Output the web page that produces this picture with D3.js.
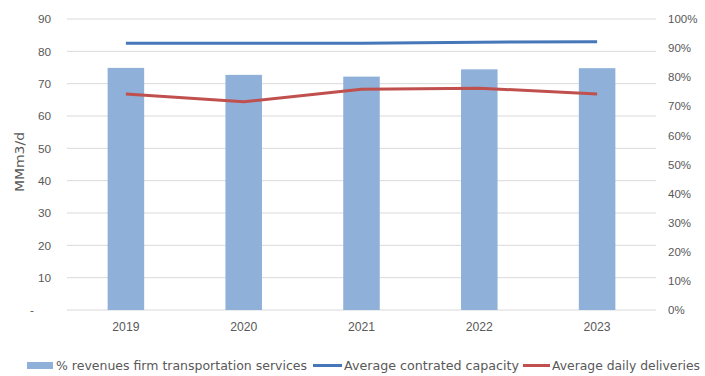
<!DOCTYPE html>
<html>
<head>
<meta charset="utf-8">
<script src="https://cdn.jsdelivr.net/npm/d3@7"></script>
<style>
  html, body { margin: 0; padding: 0; background: #fff; }
  svg { display: block; font-family: "DejaVu Sans", Verdana, sans-serif; }
</style>
</head>
<body>
<svg id="chart" width="705" height="376"></svg>
<script>
// Data
const years = ["2019", "2020", "2021", "2022", "2023"];
const revenueShare = [0.832, 0.808, 0.802, 0.827, 0.831];   // right axis (%)
const contractedCapacity = [82.5, 82.5, 82.5, 82.8, 83.0];  // MMm3/d
const dailyDeliveries = [66.8, 64.4, 68.3, 68.6, 66.8];     // MMm3/d
const leftTicks = [0, 10, 20, 30, 40, 50, 60, 70, 80, 90];
const rightTicks = [0, 0.1, 0.2, 0.3, 0.4, 0.5, 0.6, 0.7, 0.8, 0.9, 1.0];
const legendLabels = ["% revenues firm transportation services", "Average contrated capacity", "Average daily deliveries"];

const colors = { bar: "#8FB0D8", cap: "#4677B8", del: "#C0504D", grid: "#D9D9D9", text: "#595959" };

const svg = d3.select("#chart");
const m = { left: 67, right: 656, top: 19, bottom: 310 };

const x = d3.scaleBand().domain(years).range([m.left, m.right]).paddingInner(0.69).paddingOuter(0.345);
const yL = d3.scaleLinear().domain([0, 90]).range([m.bottom, m.top]);
const yR = d3.scaleLinear().domain([0, 1]).range([m.bottom, m.top]);

// Gridlines
svg.append("g").selectAll("line").data(leftTicks).join("line")
  .attr("x1", m.left).attr("x2", m.right)
  .attr("y1", d => yL(d)).attr("y2", d => yL(d))
  .attr("stroke", colors.grid).attr("stroke-width", 1);

// Left axis (zero shown as a dash, set further left)
const leftAxis = svg.append("g").attr("transform", `translate(${m.left},0)`)
  .call(d3.axisLeft(yL).tickValues(leftTicks).tickSize(0).tickPadding(16)
    .tickFormat(d => d === 0 ? "-" : d));
leftAxis.select(".domain").remove();
leftAxis.selectAll("text").attr("fill", colors.text).attr("font-size", 11.8)
  .attr("dx", d => d === 0 ? -17 : 0);

// Right axis
const rightAxis = svg.append("g").attr("transform", `translate(${m.right},0)`)
  .call(d3.axisRight(yR).tickValues(rightTicks).tickSize(0).tickPadding(12)
    .tickFormat(d3.format(".0%")));
rightAxis.select(".domain").remove();
rightAxis.selectAll("text").attr("fill", colors.text).attr("font-size", 11.5);

// Bottom axis
const bottomAxis = svg.append("g").attr("transform", `translate(0,${m.bottom})`)
  .call(d3.axisBottom(x).tickSize(0).tickPadding(12));
bottomAxis.select(".domain").remove();
bottomAxis.selectAll("text").attr("fill", colors.text).attr("font-size", 12.2);

// Axis title
svg.append("text")
  .attr("transform", `translate(24,162) rotate(-90)`)
  .attr("text-anchor", "middle").attr("fill", colors.text).attr("font-size", 12.5)
  .attr("textLength", 60).attr("lengthAdjust", "spacingAndGlyphs")
  .text("MMm3/d");

// Bars
svg.append("g").selectAll("rect").data(years).join("rect")
  .attr("x", d => x(d))
  .attr("width", x.bandwidth())
  .attr("y", (d, i) => yR(revenueShare[i]))
  .attr("height", (d, i) => yR(0) - yR(revenueShare[i]))
  .attr("fill", colors.bar);

// Lines
const cx = d => x(d) + x.bandwidth() / 2;
const line = d3.line().x(d => cx(d[0])).y(d => yL(d[1]));
svg.append("path").datum(years.map((y, i) => [y, contractedCapacity[i]]))
  .attr("d", line).attr("fill", "none").attr("stroke", colors.cap).attr("stroke-width", 3);
svg.append("path").datum(years.map((y, i) => [y, dailyDeliveries[i]]))
  .attr("d", line).attr("fill", "none").attr("stroke", colors.del).attr("stroke-width", 3);

// Legend
const lg = svg.append("g").attr("font-size", 12).attr("fill", colors.text);
const ly = 365.5;
const items = [
  { type: "rect", x0: 27, x1: 53, color: colors.bar, tx: 56, tw: 251 },
  { type: "line", x0: 313, x1: 342, color: colors.cap, tx: 344, tw: 175 },
  { type: "line", x0: 523, x1: 550, color: colors.del, tx: 552, tw: 148 }
];
items.forEach((it, i) => {
  if (it.type === "rect") {
    lg.append("rect").attr("x", it.x0).attr("y", ly - 3.5).attr("width", it.x1 - it.x0).attr("height", 7).attr("fill", it.color);
  } else {
    lg.append("line").attr("x1", it.x0).attr("x2", it.x1).attr("y1", ly).attr("y2", ly)
      .attr("stroke", it.color).attr("stroke-width", 3);
  }
  lg.append("text").attr("x", it.tx).attr("y", ly).attr("dy", "0.35em")
    .attr("textLength", it.tw).attr("lengthAdjust", "spacingAndGlyphs")
    .text(legendLabels[i]);
});
</script>
</body>
</html>
